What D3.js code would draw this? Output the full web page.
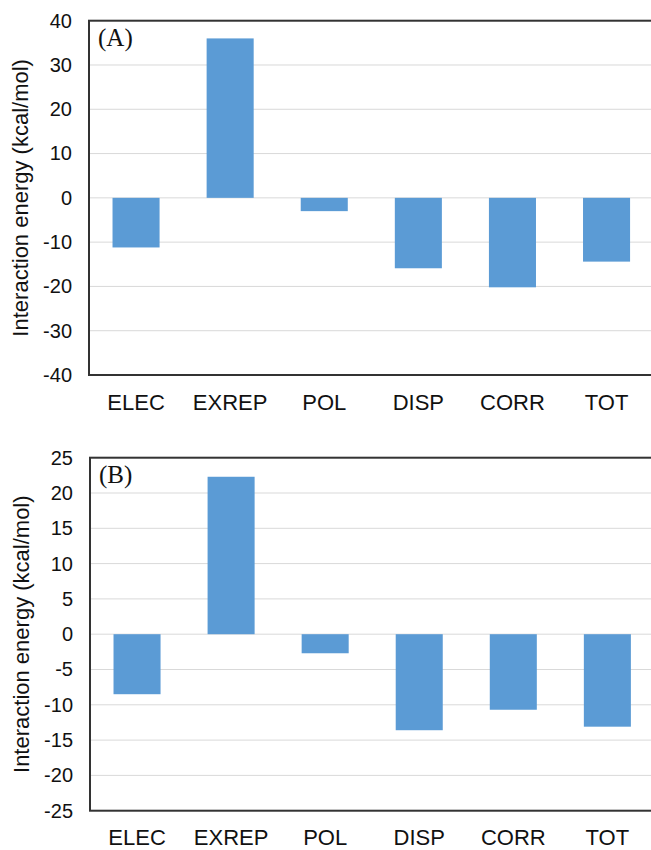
<!DOCTYPE html>
<html>
<head>
<meta charset="utf-8">
<script src="https://cdn.jsdelivr.net/npm/d3@7"></script>
<style>
  body { margin: 0; background: #fff; }
  svg { display: block; }
</style>
</head>
<body>
<svg id="chart" width="651" height="850"></svg>
<script>
// energy components, shared by both panels
const components = ["ELEC", "EXREP", "POL", "DISP", "CORR", "TOT"]

// panel A values (kcal/mol)
const valuesA = [-11.2, 36.0, -3.0, -15.9, -20.2, -14.4]
const ticksA = [-40, -30, -20, -10, 0, 10, 20, 30, 40]

// panel B values (kcal/mol)
const valuesB = [-8.5, 22.3, -2.7, -13.6, -10.7, -13.1]
const ticksB = [-25, -20, -15, -10, -5, 0, 5, 10, 15, 20, 25]

const svg = d3.select("#chart")

/**
 * Draws one panel of the bar chart.
 */
function drawPanel (values, ticks, label, box) {
  const g = svg.append("g").attr("transform", `translate(${box.x},${box.y})`)

  const x = d3.scaleBand()
    .domain(components)
    .range([0, box.w])
    .paddingInner(0.5)
    .paddingOuter(0.25)

  const y = d3.scaleLinear()
    .domain([ticks[0], ticks[ticks.length - 1]])
    .range([box.h, 0])

  // gridlines
  g.append("g")
    .selectAll("line")
    .data(ticks)
    .enter()
    .append("line")
    .attr("x1", 0)
    .attr("x2", box.w)
    .attr("y1", d => y(d))
    .attr("y2", d => y(d))
    .attr("stroke", "#d9d9d9")
    .attr("stroke-width", 1)

  // bars
  g.append("g")
    .selectAll("rect")
    .data(values)
    .enter()
    .append("rect")
    .attr("x", (d, i) => x(components[i]))
    .attr("width", x.bandwidth())
    .attr("y", d => y(Math.max(0, d)))
    .attr("height", d => Math.abs(y(d) - y(0)))
    .attr("fill", "#5b9bd5")

  // frame
  g.append("rect")
    .attr("x", 0)
    .attr("y", 0)
    .attr("width", box.w)
    .attr("height", box.h)
    .attr("fill", "none")
    .attr("stroke", "#333")
    .attr("stroke-width", 2)

  // y axis labels (plain hyphen minus like the original)
  const yAxis = g.append("g")
    .call(d3.axisLeft(y).tickValues(ticks).tickSize(0).tickPadding(17).tickFormat(d => String(d)))
  yAxis.select(".domain").remove()
  yAxis.selectAll("text")
    .attr("font-family", "Liberation Sans, Arial, sans-serif")
    .attr("font-size", 20)
    .attr("fill", "#111")

  // x axis labels
  const xAxis = g.append("g")
    .attr("transform", `translate(0,${box.h})`)
    .call(d3.axisBottom(x).tickSize(0).tickPadding(19))
  xAxis.select(".domain").remove()
  xAxis.selectAll("text")
    .attr("font-family", "Liberation Sans, Arial, sans-serif")
    .attr("font-size", 22)
    .attr("fill", "#111")

  // y axis title
  g.append("text")
    .attr("transform", `translate(${-61},${box.h / 2}) rotate(-90)`)
    .attr("text-anchor", "middle")
    .attr("font-family", "Liberation Sans, Arial, sans-serif")
    .attr("font-size", 22)
    .attr("fill", "#111")
    .text("Interaction energy (kcal/mol)")

  // panel label
  g.append("text")
    .attr("x", 9)
    .attr("y", 25)
    .attr("font-family", "Liberation Serif, Times New Roman, serif")
    .attr("font-size", 25)
    .attr("fill", "#111")
    .text(label)
}

drawPanel(valuesA, ticksA, "(A)", { x: 89, y: 20.7, w: 564.6, h: 354.3 })
drawPanel(valuesB, ticksB, "(B)", { x: 90, y: 457.7, w: 564.4, h: 353 })
</script>
</body>
</html>
